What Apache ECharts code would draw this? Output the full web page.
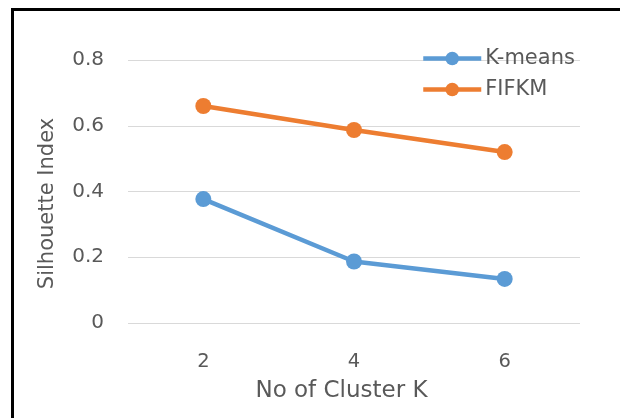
<!DOCTYPE html>
<html>
<head>
<meta charset="utf-8">
<script src="https://cdn.jsdelivr.net/npm/echarts@6/dist/echarts.min.js"></script>
<style>html,body{margin:0;padding:0;background:#fff;}#c{width:620px;height:418px;}</style>
</head>
<body>
<div id="c"></div>
<script>
var categories = ['2', '4', '6'];
var kmeans = [0.377, 0.187, 0.134];
var fifkm = [0.66, 0.587, 0.52];
var yTicks = [0, 0.2, 0.4, 0.6, 0.8];

var chart = echarts.init(document.getElementById('c'));
var font = 'DejaVu Sans';
var textColor = '#595959';
chart.setOption({
  animation: false,
  backgroundColor: '#fff',
  grid: {left: 128, right: 40, top: 60, bottom: 95, containLabel: false},
  legend: {
    orient: 'vertical', left: 416, top: 43, itemWidth: 58, itemHeight: 17, itemGap: 10,
    lineStyle: {width: 4.5},
    textStyle: {fontFamily: font, fontSize: 21, lineHeight: 17, color: textColor, padding: [0,0,0,-1]},
    data: ['K-means', 'FIFKM']
  },
  xAxis: {
    type: 'category', data: categories, boundaryGap: true,
    axisLine: {show: false}, axisTick: {show: false},
    axisLabel: {fontFamily: font, fontSize: 19.5, color: textColor, margin: 29},
    name: 'No of Cluster K', nameLocation: 'middle', nameGap: 57,
    nameTextStyle: {fontFamily: font, fontSize: 23, color: textColor, padding: [0, 25, 0, 0]}
  },
  yAxis: {
    type: 'value', min: yTicks[0], max: yTicks[yTicks.length-1], interval: 0.2,
    axisLine: {show: false}, axisTick: {show: false},
    splitLine: {lineStyle: {color: '#D9D9D9', width: 1}},
    axisLabel: {fontFamily: font, fontSize: 20, color: textColor, margin: 24,
      formatter: function(v){ return v === 0 ? '0' : String(Math.round(v*10)/10); }},
    name: 'Silhouette Index', nameLocation: 'middle', nameGap: 70, nameRotate: 90,
    nameTextStyle: {fontFamily: font, fontSize: 21, color: textColor, padding: [0, 24, 0, 0]}
  },
  series: [
    {name: 'K-means', type: 'line', data: kmeans, symbol: 'circle', symbolSize: 16,
     itemStyle: {color: '#5B9BD5'}, lineStyle: {width: 4.5, color: '#5B9BD5'}},
    {name: 'FIFKM', type: 'line', data: fifkm, symbol: 'circle', symbolSize: 16,
     itemStyle: {color: '#ED7D31'}, lineStyle: {width: 4.5, color: '#ED7D31'}}
  ],
  graphic: [
    {type: 'line', shape: {x1: 11, y1: 9.5, x2: 620, y2: 9.5}, style: {stroke: '#000', lineWidth: 3}},
    {type: 'line', shape: {x1: 12.5, y1: 8, x2: 12.5, y2: 418}, style: {stroke: '#000', lineWidth: 3}}
  ]
});
</script>
</body>
</html>
